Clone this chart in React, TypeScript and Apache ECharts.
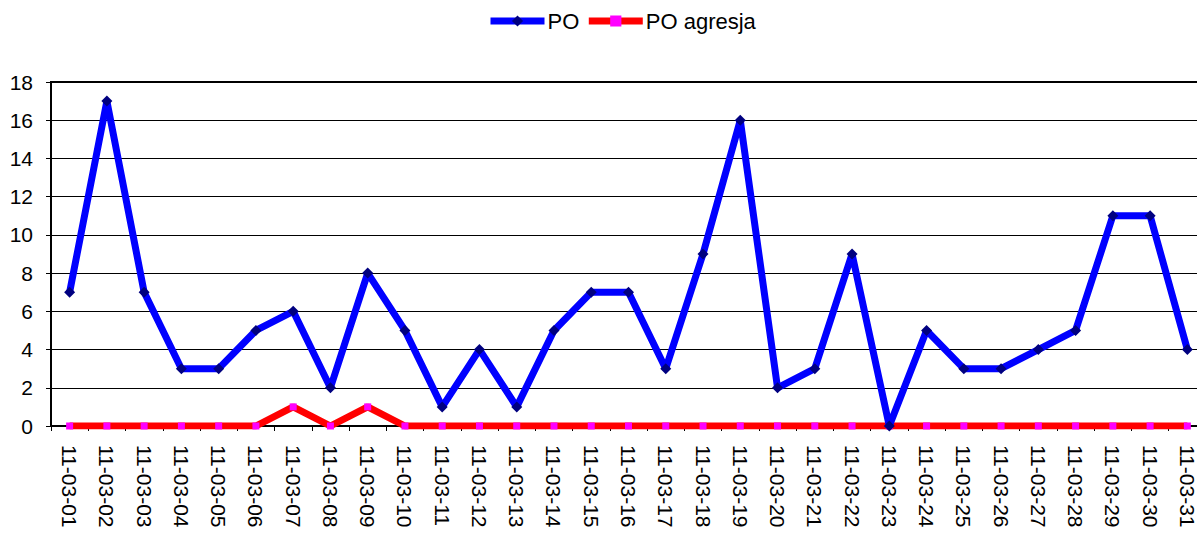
import React, { useEffect, useRef } from "react";
import * as echarts from "echarts";

const categories = [
  "11-03-01","11-03-02","11-03-03","11-03-04","11-03-05","11-03-06","11-03-07","11-03-08",
  "11-03-09","11-03-10","11-03-11","11-03-12","11-03-13","11-03-14","11-03-15","11-03-16",
  "11-03-17","11-03-18","11-03-19","11-03-20","11-03-21","11-03-22","11-03-23","11-03-24",
  "11-03-25","11-03-26","11-03-27","11-03-28","11-03-29","11-03-30","11-03-31",
];
const poValues = [7,17,7,3,3,5,6,2,8,5,1,4,1,5,7,7,3,9,16,2,3,9,0,5,3,3,4,5,11,11,4];
const poAgresjaValues = [0,0,0,0,0,0,1,0,1,0,0,0,0,0,0,0,0,0,0,0,0,0,0,0,0,0,0,0,0,0,0];
const seriesNames = ["PO", "PO agresja"];

const FONT = "'Liberation Sans', Arial, sans-serif";

export default function App() {
  const ref = useRef<HTMLDivElement>(null);
  useEffect(() => {
    document.body.style.margin = "0";
    const chart = echarts.init(ref.current!, null, { renderer: "svg" });
    chart.setOption({
      animation: false,
      textStyle: { fontFamily: FONT, color: "#000" },
      legend: {
        left: 487,
        top: 10,
        padding: 0,
        itemWidth: 54,
        itemHeight: 14,
        itemGap: 6,
        lineStyle: { width: 7 },
        textStyle: { fontFamily: FONT, fontSize: 22, color: "#000", padding: [0, 0, 0, -2] },
        data: seriesNames,
      },
      grid: {
        left: 51,
        right: 0,
        top: 82,
        bottom: 107,
        show: true,
        borderColor: "#000",
        borderWidth: 2,
      },
      xAxis: {
        type: "category",
        data: categories,
        boundaryGap: true,
        axisLine: { lineStyle: { color: "#000", width: 2 } },
        axisTick: { show: true, length: 5, inside: false, lineStyle: { color: "#000", width: 1 } },
        axisLabel: {
          rotate: -90,
          interval: 0,
          margin: 19,
          fontSize: 21,
          fontFamily: FONT,
          color: "#000",
        },
        splitLine: { show: false },
      },
      yAxis: {
        type: "value",
        min: 0,
        max: 18,
        interval: 2,
        axisLine: { show: true, lineStyle: { color: "#000", width: 2 } },
        axisTick: { show: true, length: 5, lineStyle: { color: "#000", width: 1 } },
        axisLabel: { margin: 18, fontSize: 21, fontFamily: FONT, color: "#000" },
        splitLine: { show: true, lineStyle: { color: "#000", width: 1 } },
      },
      series: [
        {
          name: seriesNames[0],
          type: "line",
          data: poValues,
          z: 3,
          lineStyle: { color: "#0000ff", width: 7 },
          itemStyle: { color: "#000080" },
          symbol: "diamond",
          symbolSize: 11,
          showAllSymbol: true,
        },
        {
          name: seriesNames[1],
          type: "line",
          data: poAgresjaValues,
          z: 2,
          lineStyle: { color: "#ff0000", width: 7 },
          itemStyle: { color: "#ff00ff" },
          symbol: "rect",
          symbolSize: 7,
          showAllSymbol: true,
        },
      ],
    });
    return () => chart.dispose();
  }, []);
  return (
    <div style={{ width: 1197, height: 533, overflow: "hidden", position: "relative" }}>
      <div ref={ref} style={{ width: 1206, height: 533, position: "absolute", left: 0, top: 0 }} />
    </div>
  );
}
